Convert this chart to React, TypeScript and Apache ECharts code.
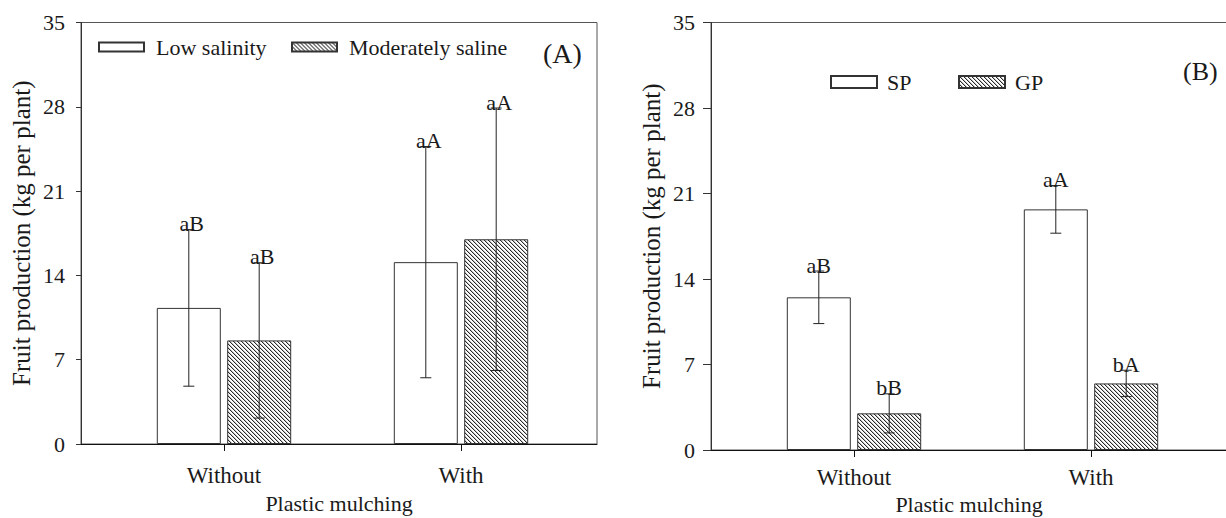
import React, { useEffect, useRef } from "react";
import * as echarts from "echarts";

// ---------- data ----------
const categories = ["Without", "With"];
const yMin = 0;
const yMax = 35;
const yInterval = 7;

// Panel A
const lowSalinity = [11.3, 15.1];
const lowSalinityErr = [6.5, 9.6];
const lowSalinityLetters = ["aB", "aA"];
const moderatelySaline = [8.6, 17.0];
const moderatelySalineErr = [6.45, 10.9];
const moderatelySalineLetters = ["aB", "aA"];

// Panel B
const sp = [12.5, 19.7];
const spErr = [2.15, 1.95];
const spLetters = ["aB", "aA"];
const gp = [3.0, 5.45];
const gpErr = [1.6, 1.08];
const gpLetters = ["bB", "bA"];

const xTitle = "Plastic mulching";
const yTitle = "Fruit production (kg per plant)";

// ---------- styles ----------
const SERIF = "Liberation Serif";
const TXT = "#1a1a1a";
const BAR_W = 64;
const BAR_GAP = 0.1;
const OFFSET = (BAR_W + BAR_W * BAR_GAP) / 2;

function makeHatch(): string {
  const c = document.createElement("canvas");
  c.width = 4;
  c.height = 4;
  const ctx = c.getContext("2d")!;
  ctx.fillStyle = "#ffffff";
  ctx.fillRect(0, 0, 4, 4);
  ctx.fillStyle = "#c4c4c4";
  for (let i = 0; i < 4; i++) ctx.fillRect((i + 1) % 4, i, 1, 1);
  ctx.fillStyle = "#2a2a2a";
  for (let i = 0; i < 4; i++) ctx.fillRect(i, i, 1, 1);
  return c.toDataURL();
}

function errorSeries(
  xAxisIndex: number,
  values: number[],
  errs: number[],
  letters: string[],
  dx: number,
  labelDx: number
) {
  return {
    type: "custom",
    xAxisIndex,
    yAxisIndex: xAxisIndex,
    z: 5,
    silent: true,
    data: values.map((v, i) => [i, v, errs[i]]),
    renderItem: (params: any, api: any) => {
      const ci = api.value(0);
      const v = api.value(1);
      const e = api.value(2);
      const x = api.coord([ci, v])[0] + dx;
      const yT = api.coord([ci, v + e])[1];
      const yB = api.coord([ci, v - e])[1];
      const st = { stroke: "#222", lineWidth: 1 };
      const cap = 5.5;
      return {
        type: "group",
        children: [
          { type: "line", shape: { x1: x, y1: yT, x2: x, y2: yB }, style: st },
          { type: "line", shape: { x1: x - cap, y1: yT, x2: x + cap, y2: yT }, style: st },
          { type: "line", shape: { x1: x - cap, y1: yB, x2: x + cap, y2: yB }, style: st },
          {
            type: "text",
            x: x + labelDx,
            y: yT + 5,
            style: {
              text: letters[params.dataIndex],
              fontFamily: SERIF,
              fontSize: 22,
              fill: TXT,
              align: "center",
              verticalAlign: "bottom",
            },
          },
        ],
      };
    },
  };
}

export default function App() {
  const ref = useRef<HTMLDivElement>(null);

  useEffect(() => {
    document.body.style.margin = "0";
    if (!ref.current) return;
    const chart = echarts.init(ref.current, undefined, { renderer: "svg" });
    const hatch = {
      image: makeHatch(),
      repeat: "repeat",
      imageWidth: 4,
      imageHeight: 4,
    } as any;

    const A = { left: 81, top: 22.5, width: 516, height: 421.5 };
    const B = { left: 711, top: 22.5, width: 516, height: 427.5 };
    const inner = 24.5;
    const bandW = 474;

    const frameGrid = (g: any) => ({
      left: g.left,
      top: g.top,
      width: g.width,
      height: g.height,
      show: true,
      borderColor: "#555",
      borderWidth: 1,
      backgroundColor: "transparent",
      containLabel: false,
      outerBoundsMode: "none",
    });
    const barGrid = (g: any) => ({
      left: g.left + inner,
      top: g.top,
      width: bandW,
      height: g.height,
      show: false,
      containLabel: false,
      outerBoundsMode: "none",
    });

    const frameX = (gridIndex: number, nameGap: number) => ({
      type: "category",
      gridIndex,
      data: categories,
      axisLine: { show: true, lineStyle: { color: "#111", width: 1 } },
      axisTick: { show: false },
      axisLabel: { show: false },
      splitLine: { show: false },
      name: xTitle,
      nameLocation: "middle",
      nameGap,
      nameTextStyle: { fontFamily: SERIF, fontSize: 22, color: TXT },
    });
    const barX = (gridIndex: number, margin: number) => ({
      type: "category",
      gridIndex,
      data: categories,
      axisLine: { show: false },
      axisTick: { show: true, alignWithLabel: true, length: 7, lineStyle: { color: "#111" } },
      axisLabel: { show: true, margin, fontFamily: SERIF, fontSize: 23, color: TXT },
      splitLine: { show: false },
    });
    const frameY = (gridIndex: number, tickLen: number) => ({
      type: "value",
      gridIndex,
      min: yMin,
      max: yMax,
      interval: yInterval,
      axisLine: { show: true, lineStyle: { color: "#333", width: 1 } },
      axisTick: { show: true, inside: false, length: tickLen, lineStyle: { color: "#333" } },
      axisLabel: { show: true, margin: 16, fontFamily: SERIF, fontSize: 22, color: TXT },
      splitLine: { show: false },
      name: yTitle,
      nameLocation: "middle",
      nameGap: 47,
      nameTextStyle: { fontFamily: SERIF, fontSize: 25, color: TXT },
    });
    const barY = (gridIndex: number) => ({
      type: "value",
      gridIndex,
      min: yMin,
      max: yMax,
      interval: yInterval,
      show: false,
    });

    const legendItem = (name: string, left: number, top: number, w: number, h: number, pad: number) => ({
      data: [name],
      left,
      top,
      padding: 0,
      itemWidth: w,
      itemHeight: h,
      icon: "rect",
      selectedMode: false,
      textStyle: { fontFamily: SERIF, fontSize: 22, color: TXT, padding: [0, 0, 0, pad] },
    });

    const whiteStyle = { color: "#ffffff", borderColor: "#333", borderWidth: 1 };
    const hatchStyle = { color: hatch, borderColor: "#333", borderWidth: 1 };

    chart.setOption({
      animation: false,
      backgroundColor: "#ffffff",
      grid: [frameGrid(A), barGrid(A), frameGrid(B), barGrid(B)],
      xAxis: [frameX(0, 48), barX(1, 20), frameX(2, 43), barX(3, 16)],
      yAxis: [frameY(0, 5), barY(1), frameY(2, 8), barY(3)],
      legend: [
        legendItem("Low salinity", 98, 36, 45, 9, 7),
        legendItem("Moderately saline", 291, 36, 45, 9, 7),
        legendItem("SP", 830, 71, 46, 12, 5),
        legendItem("GP", 958, 71, 46, 12, 5),
      ],
      graphic: [
        {
          type: "text",
          x: 543,
          y: 53,
          style: { text: "(A)", fontFamily: SERIF, fontSize: 28, fill: TXT, align: "left", verticalAlign: "middle" },
        },
        {
          type: "text",
          x: 1183,
          y: 71,
          style: { text: "(B)", fontFamily: SERIF, fontSize: 26, fill: TXT, align: "left", verticalAlign: "middle" },
        },
      ],
      series: [
        {
          type: "bar",
          name: "Low salinity",
          xAxisIndex: 1,
          yAxisIndex: 1,
          data: lowSalinity,
          barWidth: BAR_W,
          barGap: "10%",
          itemStyle: whiteStyle,
        },
        {
          type: "bar",
          name: "Moderately saline",
          xAxisIndex: 1,
          yAxisIndex: 1,
          data: moderatelySaline,
          barWidth: BAR_W,
          barGap: "10%",
          itemStyle: hatchStyle,
        },
        {
          type: "bar",
          name: "SP",
          xAxisIndex: 3,
          yAxisIndex: 3,
          data: sp,
          barWidth: BAR_W,
          barGap: "10%",
          itemStyle: whiteStyle,
        },
        {
          type: "bar",
          name: "GP",
          xAxisIndex: 3,
          yAxisIndex: 3,
          data: gp,
          barWidth: BAR_W,
          barGap: "10%",
          itemStyle: hatchStyle,
        },
        errorSeries(1, lowSalinity, lowSalinityErr, lowSalinityLetters, -OFFSET, 3),
        errorSeries(1, moderatelySaline, moderatelySalineErr, moderatelySalineLetters, OFFSET, 3),
        errorSeries(3, sp, spErr, spLetters, -OFFSET, 0),
        errorSeries(3, gp, gpErr, gpLetters, OFFSET, 0),
      ],
    });

    return () => {
      chart.dispose();
    };
  }, []);

  return <div ref={ref} style={{ width: 1226, height: 518, background: "#fff" }} />;
}
